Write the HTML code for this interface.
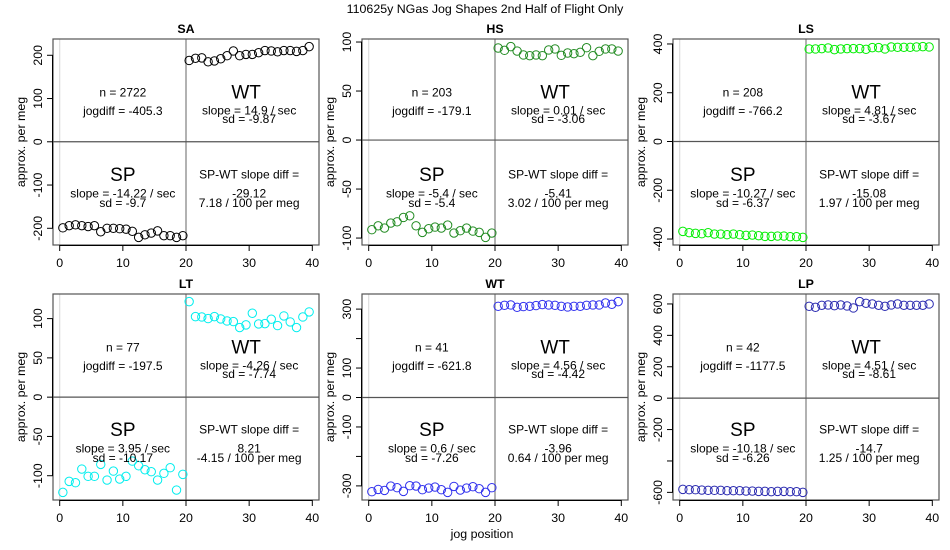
<!DOCTYPE html>
<html><head><meta charset="utf-8">
<style>
html,body{margin:0;padding:0;background:#fff;}
svg{display:block;font-family:"Liberation Sans",Arial,sans-serif;}
</style></head>
<body>
<svg id="chart" width="950" height="550" viewBox="0 0 950 550">
<text x="485" y="13" text-anchor="middle" font-size="12.4" fill="#000">110625y   NGas Jog Shapes 2nd Half of Flight Only</text>
<text x="482" y="538" text-anchor="middle" font-size="12.4" fill="#000">jog position</text>
</svg>
<script>
const panelNames = ["SA","HS","LS","LT","WT","LP"];
const panelColors = ["#000000","#228b22","#00ee00","#00eeee","#3030ee","#2a2ab0"];
const spX = [0.5,1.5,2.5,3.5,4.5,5.5,6.5,7.5,8.5,9.5,10.5,11.5,12.5,13.5,14.5,15.5,16.5,17.5,18.5,19.5];
const wtX = [20.5,21.5,22.5,23.5,24.5,25.5,26.5,27.5,28.5,29.5,30.5,31.5,32.5,33.5,34.5,35.5,36.5,37.5,38.5,39.5];
const spSA = [-199,-194,-192,-194,-196,-194,-208,-200,-200,-201,-202,-207,-221,-215,-211,-206,-217,-217,-221,-217];
const wtSA = [188,193,194,185,187,192,199,210,199,202,202,206,211,210,208,211,211,209,211,220];
const spHS = [-91.5,-87.5,-89.8,-84.7,-83.4,-79,-77.3,-87.5,-94.2,-90.5,-88.8,-89.8,-86.8,-94.9,-92.5,-89.8,-92.9,-94.2,-99.3,-94.9];
const wtHS = [93.9,91.5,95.3,90.8,86.8,86.1,86.8,86.1,91.9,92.9,86.4,88.8,88.1,89.5,94.2,86.1,90.5,92.9,92.9,90.8];
const spLS = [-368.6,-374,-376.8,-378.2,-374,-379.5,-379.5,-382.3,-379.5,-382.3,-385,-383.6,-386.3,-389.1,-389.1,-387.7,-387.7,-390.4,-390.4,-393.2];
const wtLS = [379.5,379.5,380.9,383.6,376.8,379.5,380.9,380.9,380.9,378.2,385,385,379.5,387.7,386.3,386.3,386.3,387.7,389.1,387.7];
const spLT = [-121.2,-107.2,-108.9,-91.5,-100.8,-100.8,-85.6,-105.5,-94.1,-104.2,-100.8,-81.4,-87.3,-92.4,-94.9,-105.5,-97,-89.8,-118.2,-98.3];
const wtLT = [121.6,102.5,102.1,100,102.5,99.6,97,96.2,88.6,92,106.8,93.2,93.6,99.2,91.1,103.4,95.8,88.6,102.1,108.5];
const spWT = [-319.8,-311.9,-315.3,-300.6,-306.2,-318.6,-299.4,-300.6,-313,-307.3,-304,-313,-322,-301.7,-314.1,-307.3,-302.8,-309.6,-322,-306.2];
const wtWT = [309.6,313,314.1,306.2,308.5,309.6,311.9,315.3,314.1,313,309.6,307.3,309.6,309.6,313,314.1,314.1,320.9,316.4,325.4];
const spLP = [-580.9,-583,-583,-585.1,-587.2,-587.2,-587.2,-589.3,-589.3,-589.3,-591.5,-591.5,-593.6,-593.6,-595.7,-593.6,-593.6,-595.7,-595.7,-600];
const wtLP = [585.1,578.8,591.5,593.6,589.3,593.6,587.2,574.5,614.8,604.2,600,591.5,585.1,593.6,600,591.5,591.5,591.5,591.5,600];
const yTicks = [[-200,-100,0,100,200],[-100,-50,0,50,100],[-400,-200,0,200,400],[-100,-50,0,50,100],[-300,-200,-100,0,100,200,300],[-600,-400,-200,0,200,400,600]];
const yTickLabels = [["-200","-100","0","100","200"],["-100","-50","0","50","100"],["-400","-200","0","200","400"],["-100","-50","0","50","100"],["-300","","-100","0","100","","300"],["-600","","-200","0","200","400","600"]];
const xTicks = [0,10,20,30,40];
const xTickLabels = ["0","10","20","30","40"];
const nLabels = ["n = 2722","n = 203","n = 208","n = 77","n = 41","n = 42"];
const jogLabels = ["jogdiff = -405.3","jogdiff = -179.1","jogdiff = -766.2","jogdiff = -197.5","jogdiff = -621.8","jogdiff = -1177.5"];
const wtSlope = ["slope = 14.9 / sec","slope = 0.01 / sec","slope = 4.81 / sec","slope = -4.26 / sec","slope = 4.56 / sec","slope = 4.51 / sec"];
const wtSd = ["sd = -9.87","sd = -3.06","sd = -3.67","sd = -7.74","sd = -4.42","sd = -8.61"];
const spSlope = ["slope = -14.22 / sec","slope = -5.4 / sec","slope = -10.27 / sec","slope = 3.95 / sec","slope = 0.6 / sec","slope = -10.18 / sec"];
const spSd = ["sd = -9.7","sd = -5.4","sd = -6.37","sd = -10.17","sd = -7.26","sd = -6.26"];
const diffVals = ["-29.12","-5.41","-15.08","8.21","-3.96","-14.7"];
const diffPer = ["7.18 / 100 per meg","3.02 / 100 per meg","1.97 / 100 per meg","-4.15 / 100 per meg","0.64 / 100 per meg","1.25 / 100 per meg"];
const spSeries = [spSA,spHS,spLS,spLT,spWT,spLP];
const wtSeries = [wtSA,wtHS,wtLS,wtLT,wtWT,wtLP];

const NS = "http://www.w3.org/2000/svg";
const svg = document.getElementById("chart");
const boxLefts = [53,362,673];
const boxTops = [39,294];
const BW = 266, BH = 206;

function mk(tag, attrs, parent, text){
  const e = document.createElementNS(NS, tag);
  for (const k in attrs) e.setAttribute(k, attrs[k]);
  if (text !== undefined) e.textContent = text;
  parent.appendChild(e);
  return e;
}

for (let p = 0; p < 6; p++) {
  const L = boxLefts[p % 3], T = boxTops[Math.floor(p / 3)];
  const g = mk("g", {}, svg);
  
  
  const allX = spX.concat(wtX), allY = spSeries[p].concat(wtSeries[p]);
  let xmin = Math.min(...allX), xmax = Math.max(...allX);
  let ymin = Math.min(...allY), ymax = Math.max(...allY);
  const xe = (xmax - xmin) * 0.04, ye = (ymax - ymin) * 0.04;
  xmin -= xe; xmax += xe; ymin -= ye; ymax += ye;
  const sx = v => L + (v - xmin) / (xmax - xmin) * BW;
  const sy = v => T + BH - (v - ymin) / (ymax - ymin) * BH;

  const l0 = mk("line", {x1: sx(0), x2: sx(0), y1: T, y2: T + BH, stroke: "#dddddd", "stroke-width": 1.2}, g);
  
  
  const l20 = mk("line", {x1: sx(20), x2: sx(20), y1: T, y2: T + BH, stroke: "#999999", "stroke-width": 1.5}, g);
  
  
  const h0 = mk("line", {x1: L, x2: L + BW, y1: sy(0), y2: sy(0), stroke: "#555555", "stroke-width": 1.2}, g);
  
  

  const fr = mk("rect", {x: L, y: T, width: BW, height: BH, fill: "none", stroke: "#555555", "stroke-width": 1.2}, g);
  
  

  const tt = mk("text", {x: L + BW / 2, y: T - 6, "text-anchor": "middle", "font-size": 12.4, "font-weight": "bold"}, g, panelNames[p]);
  
  

  const ya = mk("g", {}, g);
  
  
  const yt = yTicks[p];
  mk("line", {x1: L - 0.5, x2: L - 0.5, y1: sy(yt[0]), y2: sy(yt[yt.length - 1]), stroke: "#000", "stroke-width": 1}, ya);
  yt.forEach((v, i) => {
    const y = sy(v);
    mk("line", {x1: L - 6, x2: L, y1: y, y2: y, stroke: "#000", "stroke-width": 1}, ya);
    if (yTickLabels[p][i] !== "") {
      const t = mk("text", {x: 0, y: 0, "text-anchor": "middle", "font-size": 12.4, transform: `translate(${L - 11},${y}) rotate(-90)`}, ya, yTickLabels[p][i]);
      
      
    }
  });
  const yTitle = mk("text", {x: 0, y: 0, "text-anchor": "middle", "font-size": 12.4, transform: `translate(${L - 28},${T + BH / 2}) rotate(-90)`}, ya, "approx. per meg");
  
  

  const xa = mk("g", {}, g);
  
  
  mk("line", {x1: sx(xTicks[0]), x2: sx(xTicks[xTicks.length - 1]), y1: T + BH + 0.5, y2: T + BH + 0.5, stroke: "#000", "stroke-width": 1}, xa);
  xTicks.forEach((v, i) => {
    const x = sx(v);
    mk("line", {x1: x, x2: x, y1: T + BH, y2: T + BH + 6, stroke: "#000", "stroke-width": 1}, xa);
    const t = mk("text", {x: x, y: T + BH + 22, "text-anchor": "middle", "font-size": 12.4}, xa, xTickLabels[i]);
    
    
  });

  const col = panelColors[p];
  spX.forEach((xv, i) => {
    const c = mk("circle", {cx: sx(xv), cy: sy(spSeries[p][i]), r: 4.2, fill: "none", stroke: col, "stroke-width": 1}, g);
    
    
  });
  wtX.forEach((xv, i) => {
    const c = mk("circle", {cx: sx(xv), cy: sy(wtSeries[p][i]), r: 4.2, fill: "none", stroke: col, "stroke-width": 1}, g);
    
    
  });

  const lx = sx(10), rx = sx(30);
  const ann = [
    [lx, 0.259, 12, nLabels[p], 'n-label'],
    [lx, 0.348, 12, jogLabels[p], 'jogdiff-label'],
    [rx - 3, 0.255, 19, "WT", 'wt-label'],
    [rx, 0.345, 12, wtSlope[p], 'wt-slope-label'],
    [rx, 0.387, 12, wtSd[p], 'wt-sd-label'],
    [lx, 0.656, 19, "SP", 'sp-label'],
    [lx, 0.748, 12, spSlope[p], 'sp-slope-label'],
    [lx, 0.795, 12, spSd[p], 'sp-sd-label'],
    [rx, 0.656, 12, "SP-WT slope diff =", 'slope-diff-label'],
    [rx, 0.748, 12, diffVals[p], 'slope-diff-value'],
    [rx, 0.795, 12, diffPer[p], 'diff-per-meg-label']
  ];
  ann.forEach(a => {
    const t = mk("text", {x: a[0], y: T + a[1] * BH + a[2] * 0.36, "text-anchor": "middle", "font-size": a[2], fill: "#000"}, g, a[3]);
    
    
  });
}
</script>
</body></html>
